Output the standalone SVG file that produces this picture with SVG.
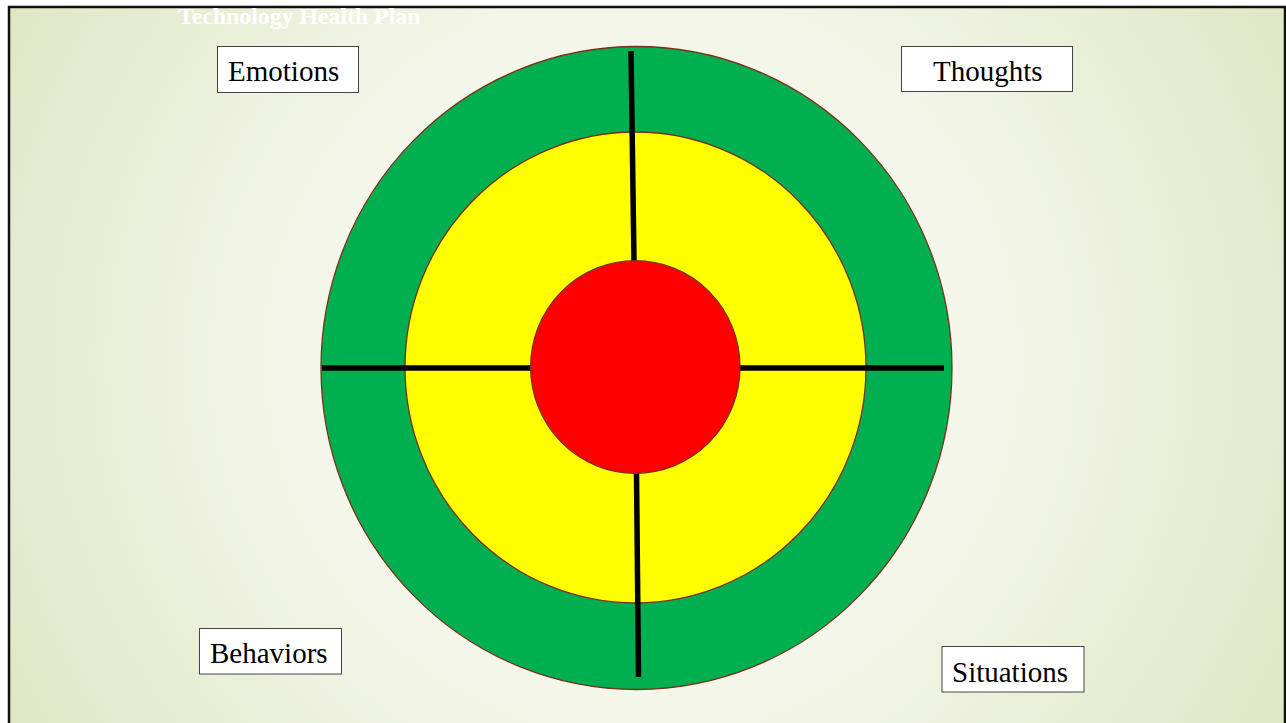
<svg xmlns="http://www.w3.org/2000/svg" width="1286" height="723" viewBox="0 0 1286 723">
<defs>
<radialGradient id="bg" cx="643" cy="360" r="760" gradientUnits="userSpaceOnUse">
<stop offset="0" stop-color="#fbfbf6"/>
<stop offset="0.45" stop-color="#f4f6ea"/>
<stop offset="1" stop-color="#dde6c2"/>
</radialGradient>
<style>
.ring{stroke:#7a3018;stroke-width:1.3}
.axis{stroke:#000;stroke-width:5.5;fill:none}
.box{fill:#fff;stroke:#444;stroke-width:1}
.lbl{font-family:"Liberation Serif","Times New Roman",serif;font-size:29px;fill:#000}
.title{font-family:"Liberation Serif","Times New Roman",serif;font-size:23.8px;font-weight:bold;fill:#fff}
</style>
</defs>
<rect x="0" y="0" width="1286" height="723" fill="#fff"/>
<rect x="9" y="7" width="1276" height="730" fill="url(#bg)" stroke="#111" stroke-width="2.5"/>
<text class="title" x="178" y="24">Technology Health Plan</text>
<g id="outer"><ellipse class="ring" cx="636.5" cy="368" rx="315.5" ry="321.5" fill="#00b050"/></g>
<g id="middle"><ellipse class="ring" cx="635.5" cy="367.5" rx="230.5" ry="235.5" fill="#ffff00"/></g>
<g id="connectors">
<line class="axis" x1="631" y1="51" x2="634" y2="261"/>
<line class="axis" x1="636.5" y1="473" x2="638.5" y2="677"/>
<line class="axis" x1="322" y1="368" x2="531" y2="368"/>
<line class="axis" x1="739" y1="368" x2="944" y2="368"/>
</g>
<g id="center"><ellipse class="ring" cx="635.3" cy="367" rx="104.7" ry="106.3" fill="#ff0000"/></g>
<g id="emotions"><rect class="box" x="217.5" y="46.5" width="141" height="46"/><text class="lbl" x="228" y="81">Emotions</text></g>
<g id="thoughts"><rect class="box" x="901.5" y="46.5" width="171" height="45"/><text class="lbl" x="933" y="81">Thoughts</text></g>
<g id="behaviors"><rect class="box" x="199.5" y="628.5" width="142" height="45.5"/><text class="lbl" x="210" y="663">Behaviors</text></g>
<g id="situations"><rect class="box" x="942" y="646.5" width="142" height="45.5"/><text class="lbl" x="952" y="682">Situations</text></g>
</svg>
